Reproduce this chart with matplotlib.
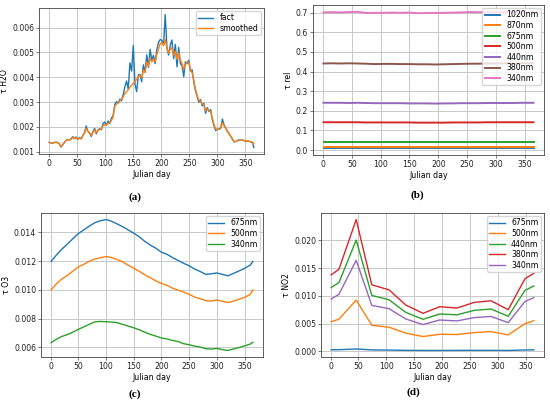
import numpy as np
import matplotlib
matplotlib.use("Agg")
import matplotlib.pyplot as plt

# ---------------- data ----------------
# (a) water vapour
days_a = list(range(0, 364, 3)) + [365]
fact_a = [0.00138, 0.00136, 0.00134, 0.00138, 0.00139, 0.00137, 0.00132, 0.00119, 0.00128, 0.00138,
          0.00146, 0.00150, 0.00148, 0.00152, 0.00161, 0.00153, 0.00160, 0.00149, 0.00158, 0.00152,
          0.00166, 0.00178, 0.00204, 0.00183, 0.00176, 0.00162, 0.00181, 0.00194, 0.00172, 0.00188,
          0.00193, 0.00189, 0.00214, 0.00220, 0.00207, 0.00224, 0.00214, 0.00236, 0.00245, 0.00290,
          0.00302, 0.00296, 0.00312, 0.00305, 0.00330, 0.00362, 0.00385, 0.00352, 0.00458, 0.00425,
          0.00528, 0.00372, 0.00342, 0.00410, 0.00412, 0.00382, 0.00450, 0.00420, 0.00490, 0.00440,
          0.00512, 0.00470, 0.00488, 0.00455, 0.00510, 0.00540, 0.00552, 0.00548, 0.00530, 0.00652,
          0.00520, 0.00490, 0.00530, 0.00550, 0.00475, 0.00532, 0.00442, 0.00520, 0.00455, 0.00448,
          0.00402, 0.00462, 0.00455, 0.00468, 0.00425, 0.00430, 0.00380, 0.00345, 0.00322, 0.00300,
          0.00310, 0.00285, 0.00295, 0.00255, 0.00278, 0.00262, 0.00270, 0.00230, 0.00205, 0.00185,
          0.00192, 0.00190, 0.00195, 0.00232, 0.00208, 0.00196, 0.00182, 0.00172, 0.00162, 0.00150,
          0.00140, 0.00142, 0.00146, 0.00148, 0.00146, 0.00148, 0.00145, 0.00142, 0.00144, 0.00142,
          0.00140, 0.00137, 0.00118]
smooth_a = [0.00138, 0.00136, 0.00135, 0.00137, 0.00138, 0.00137, 0.00133, 0.00121, 0.00128, 0.00137,
            0.00145, 0.00149, 0.00148, 0.00151, 0.00158, 0.00154, 0.00157, 0.00151, 0.00155, 0.00153,
            0.00164, 0.00175, 0.00195, 0.00182, 0.00175, 0.00166, 0.00178, 0.00188, 0.00176, 0.00186,
            0.00190, 0.00192, 0.00205, 0.00210, 0.00208, 0.00215, 0.00218, 0.00226, 0.00240, 0.00283,
            0.00292, 0.00296, 0.00305, 0.00312, 0.00322, 0.00334, 0.00342, 0.00350, 0.00360, 0.00368,
            0.00376, 0.00384, 0.00392, 0.00402, 0.00410, 0.00398, 0.00428, 0.00420, 0.00462, 0.00445,
            0.00478, 0.00462, 0.00470, 0.00462, 0.00492, 0.00515, 0.00535, 0.00540, 0.00528, 0.00552,
            0.00515, 0.00498, 0.00512, 0.00520, 0.00490, 0.00505, 0.00472, 0.00498, 0.00470, 0.00455,
            0.00432, 0.00450, 0.00462, 0.00458, 0.00432, 0.00418, 0.00388, 0.00352, 0.00325, 0.00308,
            0.00305, 0.00292, 0.00290, 0.00265, 0.00272, 0.00265, 0.00262, 0.00235, 0.00210, 0.00192,
            0.00190, 0.00192, 0.00198, 0.00218, 0.00205, 0.00194, 0.00182, 0.00172, 0.00162, 0.00151,
            0.00141, 0.00142, 0.00145, 0.00147, 0.00146, 0.00147, 0.00145, 0.00143, 0.00144, 0.00142,
            0.00140, 0.00138, 0.00132]

# (b) relative optical depth
days_b = [1, 15, 30, 45, 60, 75, 90, 105, 120, 135, 150, 165, 180, 195, 210, 225, 240, 255,
          270, 285, 300, 315, 330, 345, 360, 365]
labels_b = ["1020nm", "870nm", "675nm", "500nm", "440nm", "380nm", "340nm"]
rel_1020 = [0.010] * 26
rel_870 = [0.018] * 26
rel_675 = [0.043] * 26
rel_500 = [0.142, 0.142, 0.142, 0.142, 0.142, 0.141, 0.141, 0.141, 0.141, 0.141, 0.141, 0.140, 0.140,
           0.140, 0.140, 0.141, 0.141, 0.141, 0.141, 0.142, 0.142, 0.142, 0.142, 0.142, 0.142, 0.142]
rel_440 = [0.241, 0.241, 0.241, 0.240, 0.241, 0.240, 0.239, 0.239, 0.239, 0.239, 0.238, 0.238, 0.238,
           0.237, 0.238, 0.238, 0.239, 0.239, 0.239, 0.240, 0.240, 0.240, 0.240, 0.241, 0.241, 0.241]
rel_380 = [0.441, 0.442, 0.441, 0.442, 0.441, 0.440, 0.438, 0.439, 0.439, 0.438, 0.438, 0.437, 0.437,
           0.436, 0.437, 0.438, 0.439, 0.440, 0.440, 0.441, 0.441, 0.442, 0.441, 0.442, 0.442, 0.441]
rel_340 = [0.701, 0.702, 0.701, 0.703, 0.704, 0.698, 0.699, 0.699, 0.700, 0.699, 0.700, 0.697, 0.698,
           0.698, 0.699, 0.700, 0.701, 0.703, 0.702, 0.703, 0.702, 0.703, 0.702, 0.703, 0.702, 0.701]

# (c) ozone
days_c = [1, 10, 20, 30, 40, 50, 60, 70, 80, 90, 100, 110, 120, 130, 140, 150, 160, 170, 180, 190,
          200, 210, 220, 230, 240, 250, 260, 270, 280, 290, 300, 310, 320, 330, 340, 350, 360, 365]
o3_675 = [0.01198, 0.01240, 0.01282, 0.01318, 0.01355, 0.01392, 0.01418, 0.01445, 0.01468, 0.01482,
          0.01490, 0.01478, 0.01460, 0.01440, 0.01418, 0.01395, 0.01370, 0.01338, 0.01312, 0.01290,
          0.01262, 0.01248, 0.01225, 0.01205, 0.01185, 0.01168, 0.01145, 0.01128, 0.01108, 0.01112,
          0.01118, 0.01108, 0.01098, 0.01115, 0.01132, 0.01150, 0.01172, 0.01198]
o3_500 = [0.01000, 0.01040, 0.01075, 0.01100, 0.01130, 0.01160, 0.01178, 0.01200, 0.01215, 0.01225,
          0.01232, 0.01225, 0.01212, 0.01195, 0.01172, 0.01150, 0.01130, 0.01105, 0.01085, 0.01062,
          0.01045, 0.01032, 0.01012, 0.00998, 0.00985, 0.00968, 0.00950, 0.00938, 0.00925, 0.00922,
          0.00930, 0.00920, 0.00912, 0.00922, 0.00935, 0.00948, 0.00968, 0.01000]
o3_340 = [0.00632, 0.00655, 0.00675, 0.00688, 0.00705, 0.00725, 0.00742, 0.00760, 0.00778, 0.00780,
          0.00778, 0.00776, 0.00772, 0.00760, 0.00748, 0.00736, 0.00722, 0.00705, 0.00690, 0.00678,
          0.00665, 0.00658, 0.00648, 0.00640, 0.00625, 0.00618, 0.00608, 0.00602, 0.00590, 0.00588,
          0.00592, 0.00584, 0.00578, 0.00588, 0.00598, 0.00610, 0.00622, 0.00635]

# (d) NO2
days_d = [1, 15, 46, 74, 105, 135, 166, 196, 227, 258, 288, 319, 349, 365]
no2_675 = [0.00030, 0.00032, 0.00045, 0.00028, 0.00025, 0.00020, 0.00018, 0.00018, 0.00019, 0.00020,
           0.00020, 0.00018, 0.00026, 0.00030]
no2_500 = [0.00537, 0.00580, 0.00925, 0.00472, 0.00436, 0.00330, 0.00269, 0.00310, 0.00305, 0.00340,
           0.00358, 0.00298, 0.00500, 0.00555]
no2_440 = [0.01152, 0.01240, 0.02006, 0.01009, 0.00931, 0.00704, 0.00579, 0.00675, 0.00660, 0.00740,
           0.00765, 0.00633, 0.01100, 0.01180]
no2_380 = [0.01379, 0.01480, 0.02376, 0.01200, 0.01110, 0.00836, 0.00687, 0.00806, 0.00782, 0.00884,
           0.00913, 0.00752, 0.01310, 0.01409]
no2_340 = [0.00943, 0.01030, 0.01642, 0.00830, 0.00770, 0.00585, 0.00484, 0.00567, 0.00550, 0.00610,
           0.00630, 0.00520, 0.00900, 0.00970]

# ---------------- plotting ----------------
FS = 5.6
plt.rcParams.update({
    "font.family": ["DejaVu Sans"],
    "font.size": FS,
    "axes.linewidth": 0.6,
    "axes.edgecolor": "#444444",
    "xtick.major.size": 2.0,
    "ytick.major.size": 2.0,
    "xtick.major.width": 0.5,
    "ytick.major.width": 0.5,
    "xtick.color": "#444444",
    "ytick.color": "#444444",
    "xtick.labelcolor": "#222222",
    "ytick.labelcolor": "#222222",
    "xtick.major.pad": 1.5,
    "ytick.major.pad": 1.5,
    "grid.color": "#c8c8c8",
    "grid.linewidth": 0.7,
    "legend.fontsize": FS,
})

fig = plt.figure(figsize=(5.5, 4.03), dpi=100)

def mk(l, r, t, b):
    W, H = 550.0, 403.0
    return fig.add_axes([l / W, 1 - b / H, (r - l) / W, (b - t) / H])

ax_a = mk(39, 264, 8, 154)
ax_b = mk(313, 544, 5, 155)
ax_c = mk(41, 263, 213, 357)
ax_d = mk(321, 544, 213, 357)

lw = 1.0
ax_a.plot(days_a, fact_a, color="C0", lw=lw, label="fact")
ax_a.plot(days_a, smooth_a, color="C1", lw=lw, label="smoothed")
ax_a.set_ylabel("τ H2O", labelpad=2)

for vals, lab in zip([rel_1020, rel_870, rel_675, rel_500, rel_440, rel_380, rel_340], labels_b):
    ax_b.plot(days_b, vals, lw=1.4, label=lab)
ax_b.set_ylabel("τ rel", labelpad=2)

for vals, lab in zip([o3_675, o3_500, o3_340], ["675nm", "500nm", "340nm"]):
    ax_c.plot(days_c, vals, lw=lw, label=lab)
ax_c.set_ylabel("τ O3", labelpad=2)

for vals, lab in zip([no2_675, no2_500, no2_440, no2_380, no2_340],
                     ["675nm", "500nm", "440nm", "380nm", "340nm"]):
    ax_d.plot(days_d, vals, lw=lw, label=lab)
ax_d.set_ylabel("τ NO2", labelpad=2)

for ax in (ax_a, ax_b, ax_c, ax_d):
    ax.grid(True)
    ax.set_xlabel("Julian day", labelpad=1.5)
    ax.set_xticks(np.arange(0, 351, 50))
    ax.legend(loc="upper right", handlelength=2.0, borderpad=0.3, labelspacing=0.2,
              handletextpad=0.8, borderaxespad=0.4, fancybox=True, framealpha=0.8)

ax_a.set_yticks(np.arange(0.001, 0.0061, 0.001))
ax_b.set_yticks(np.arange(0.0, 0.71, 0.1))
ax_c.set_yticks(np.arange(0.006, 0.0141, 0.002))
ax_d.set_yticks(np.arange(0.0, 0.0201, 0.005))

cap = dict(fontsize=8, family=["Liberation Serif", "DejaVu Serif"], fontweight="bold",
           ha="center", va="center")
fig.text(135 / 550, 1 - 197 / 403, "(a)", **cap)
fig.text(417 / 550, 1 - 195 / 403, "(b)", **cap)
fig.text(135 / 550, 1 - 394 / 403, "(c)", **cap)
fig.text(413 / 550, 1 - 392 / 403, "(d)", **cap)

fig.savefig("out.png", dpi=100, facecolor="white")
